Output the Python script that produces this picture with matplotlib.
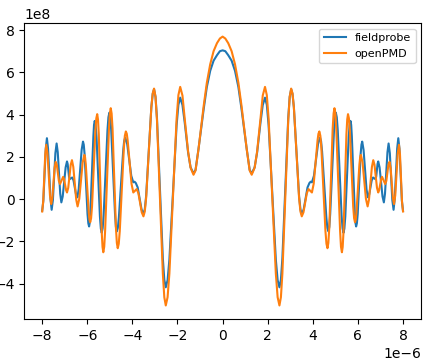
import matplotlib
matplotlib.use("Agg")
import matplotlib.pyplot as plt
import numpy as np

# x in micrometres, field in units of 1e7
probe_x = [-8.000, -7.947, -7.895, -7.842, -7.790, -7.740, -7.685, -7.630, -7.580, -7.525,
           -7.470, -7.415, -7.360, -7.310, -7.255, -7.200, -7.150, -7.090, -7.025, -6.960,
           -6.900, -6.870, -6.840, -6.810, -6.780, -6.725, -6.670, -6.610, -6.555, -6.500,
           -6.440, -6.380, -6.315, -6.250, -6.190, -6.156, -6.120, -6.055, -5.990, -5.954,
           -5.920, -5.889, -5.860, -5.795, -5.730, -5.701, -5.670, -5.631, -5.590, -5.515,
           -5.440, -5.399, -5.360, -5.318, -5.275, -5.190, -5.105, -5.063, -5.020, -4.979,
           -4.940, -4.855, -4.770, -4.731, -4.690, -4.644, -4.600, -4.505, -4.410, -4.366,
           -4.320, -4.230, -4.140, -4.050, -3.960, -3.905, -3.850, -3.765, -3.680, -3.595,
           -3.510, -3.451, -3.390, -3.275, -3.160, -3.099, -3.040, -2.975, -2.910, -2.780,
           -2.650, -2.585, -2.520, -2.440, -2.360, -2.200, -2.040, -1.960, -1.880, -1.780,
           -1.680, -1.530, -1.420, -1.290, -1.200, -1.070, -0.840, -0.700, -0.550, -0.400,
           -0.250, -0.120, 0.000,
           0.120, 0.250, 0.400, 0.550, 0.700, 0.840, 1.070, 1.200, 1.290, 1.420,
           1.530, 1.680, 1.780, 1.880, 1.960, 2.040, 2.200, 2.360, 2.440, 2.520,
           2.585, 2.650, 2.780, 2.910, 2.975, 3.040, 3.099, 3.160, 3.275, 3.390,
           3.451, 3.510, 3.595, 3.680, 3.765, 3.850, 3.905, 3.960, 4.050, 4.140,
           4.230, 4.320, 4.366, 4.410, 4.505, 4.600, 4.644, 4.690, 4.731, 4.770,
           4.855, 4.940, 4.979, 5.020, 5.063, 5.105, 5.190, 5.275, 5.318, 5.360,
           5.399, 5.440, 5.515, 5.590, 5.631, 5.670, 5.701, 5.730, 5.795, 5.860,
           5.889, 5.920, 5.954, 5.990, 6.055, 6.120, 6.156, 6.190, 6.250, 6.315,
           6.380, 6.440, 6.500, 6.555, 6.610, 6.670, 6.725, 6.780, 6.810, 6.840,
           6.870, 6.900, 6.960, 7.025, 7.090, 7.150, 7.200, 7.255, 7.310, 7.360,
           7.415, 7.470, 7.525, 7.580, 7.630, 7.685, 7.740, 7.790, 7.842, 7.895,
           7.947, 8.000]
probe_y = [-5.6, -0.6, 11.6, 23.8, 28.8, 23.9, 11.9, -0.2, -5.1, -0.5,
           10.6, 21.7, 26.3, 22.2, 12.4, 2.5, -1.6, 1.2, 8.1, 15.0,
           17.8, 16.6, 13.6, 10.6, 9.4, 9.8, 10.2, 8.8, 5.5, 2.2,
           0.8, 4.7, 14.0, 23.3, 27.2, 25.7, 21.3, 7.1, -7.1, -11.5,
           -13.0, -11.1, -5.7, 12.0, 29.7, 35.1, 37.0, 35.0, 29.3, 10.5,
           -8.3, -14.0, -16.0, -13.8, -7.7, 12.5, 32.6, 38.7, 40.9, 38.8,
           32.7, 12.8, -7.1, -13.2, -15.3, -13.6, -8.8, 6.9, 22.6, 27.4,
           29.1, 26.0, 18.5, 11.0, 7.9, 8.2, 7.6, 5.5, 0.3, -4.9,
           -7.1, -4.9, 1.5, 22.4, 43.4, 49.8, 52.0, 48.4, 38.3, 5.1,
           -28.1, -38.2, -41.8, -38.4, -28.7, 3.1, 34.9, 44.6, 48.0, 44.5,
           36.2, 22.0, 15.0, 12.1, 13.8, 23.6, 42.5, 53.0, 60.7, 65.5,
           68.1, 70.0, 70.4,
           70.0, 68.1, 65.5, 60.7, 53.0, 42.5, 23.6, 13.8, 12.1, 15.0,
           22.0, 36.2, 44.5, 48.0, 44.6, 34.9, 3.1, -28.7, -38.4, -41.8,
           -38.2, -28.1, 5.1, 38.3, 48.4, 52.0, 49.8, 43.4, 22.4, 1.5,
           -4.9, -7.1, -4.9, 0.3, 5.5, 7.6, 8.2, 7.9, 11.0, 18.5,
           26.0, 29.1, 27.4, 22.6, 6.9, -8.8, -13.6, -15.3, -13.2, -7.1,
           12.8, 32.7, 38.8, 40.9, 38.7, 32.6, 12.5, -7.7, -13.8, -16.0,
           -14.0, -8.3, 10.5, 29.3, 35.0, 37.0, 35.1, 29.7, 12.0, -5.7,
           -11.1, -13.0, -11.5, -7.1, 7.1, 21.3, 25.7, 27.2, 23.3, 14.0,
           4.7, 0.8, 2.2, 5.5, 8.8, 10.2, 9.8, 9.4, 10.6, 13.6,
           16.6, 17.8, 15.0, 8.1, 1.2, -1.6, 2.5, 12.4, 22.2, 26.3,
           21.7, 10.6, -0.5, -5.1, -0.2, 11.9, 23.9, 28.8, 23.8, 11.6,
           -0.6, -5.6]

pmd_x = [-8.000, -7.955, -7.910, -7.865, -7.820, -7.765, -7.710, -7.655, -7.600, -7.550,
         -7.500, -7.450, -7.400, -7.350, -7.305, -7.260, -7.210, -7.140, -7.070, -7.030,
         -6.985, -6.940, -6.900, -6.845, -6.790, -6.735, -6.680, -6.620, -6.555, -6.490,
         -6.430, -6.355, -6.280, -6.205, -6.130, -6.098, -6.065, -6.000, -5.935, -5.903,
         -5.870, -5.831, -5.790, -5.715, -5.640, -5.599, -5.560, -5.526, -5.490, -5.425,
         -5.360, -5.324, -5.290, -5.249, -5.210, -5.125, -5.040, -5.001, -4.960, -4.921,
         -4.880, -4.805, -4.730, -4.689, -4.650, -4.605, -4.560, -4.470, -4.380, -4.335,
         -4.290, -4.249, -4.210, -4.125, -4.040, -3.960, -3.885, -3.810, -3.735, -3.660,
         -3.585, -3.510, -3.451, -3.390, -3.275, -3.160, -3.099, -3.040, -2.975, -2.910,
         -2.780, -2.650, -2.585, -2.520, -2.440, -2.360, -2.200, -2.040, -1.960, -1.880,
         -1.780, -1.680, -1.530, -1.420, -1.290, -1.200, -1.070, -0.840, -0.700, -0.550,
         -0.400, -0.250, -0.120, 0.000,
         0.120, 0.250, 0.400, 0.550, 0.700, 0.840, 1.070, 1.200, 1.290, 1.420,
         1.530, 1.680, 1.780, 1.880, 1.960, 2.040, 2.200, 2.360, 2.440, 2.520,
         2.585, 2.650, 2.780, 2.910, 2.975, 3.040, 3.099, 3.160, 3.275, 3.390,
         3.451, 3.510, 3.585, 3.660, 3.735, 3.810, 3.885, 3.960, 4.040, 4.125,
         4.210, 4.249, 4.290, 4.335, 4.380, 4.470, 4.560, 4.605, 4.650, 4.689,
         4.730, 4.805, 4.880, 4.921, 4.960, 5.001, 5.040, 5.125, 5.210, 5.249,
         5.290, 5.324, 5.360, 5.425, 5.490, 5.526, 5.560, 5.599, 5.640, 5.715,
         5.790, 5.831, 5.870, 5.903, 5.935, 6.000, 6.065, 6.098, 6.130, 6.205,
         6.280, 6.355, 6.430, 6.490, 6.555, 6.620, 6.680, 6.735, 6.790, 6.845,
         6.900, 6.940, 6.985, 7.030, 7.070, 7.140, 7.210, 7.260, 7.305, 7.350,
         7.400, 7.450, 7.500, 7.550, 7.600, 7.655, 7.710, 7.765, 7.820, 7.865,
         7.910, 7.955, 8.000]
pmd_y = [-5.9, -1.3, 9.9, 21.1, 25.7, 21.6, 11.7, 1.7, -2.4, 0.5,
         7.6, 14.7, 17.6, 16.1, 12.4, 8.6, 7.1, 8.8, 10.5, 9.4,
         6.8, 4.2, 3.1, 5.3, 10.8, 16.2, 18.4, 15.2, 7.5, -0.3,
         -3.5, 0.1, 8.7, 17.3, 20.9, 19.7, 16.2, 5.0, -6.3, -9.8,
         -11.0, -9.1, -3.5, 14.6, 32.7, 38.3, 40.2, 37.7, 30.7, 7.5,
         -15.7, -22.7, -25.2, -22.6, -15.2, 8.9, 33.0, 40.4, 43.0, 40.5,
         33.3, 9.9, -13.6, -20.8, -23.3, -21.2, -15.2, 4.4, 23.9, 29.9,
         32.0, 30.9, 27.8, 17.6, 7.3, 3.1, 3.9, 4.7, 2.8, -1.8,
         -6.3, -8.2, -5.9, 0.6, 22.1, 43.5, 50.0, 52.3, 48.4, 37.3,
         1.0, -35.4, -46.5, -50.4, -46.5, -35.3, 1.4, 38.0, 49.2, 53.1,
         49.0, 38.0, 22.5, 14.8, 11.5, 13.5, 23.5, 44.0, 55.0, 63.8,
         70.0, 73.8, 76.0, 76.9,
         76.0, 73.8, 70.0, 63.8, 55.0, 44.0, 23.5, 13.5, 11.5, 14.8,
         22.5, 38.0, 49.0, 53.1, 49.2, 38.0, 1.4, -35.3, -46.5, -50.4,
         -46.5, -35.4, 1.0, 37.3, 48.4, 52.3, 50.0, 43.5, 22.1, 0.6,
         -5.9, -8.2, -6.3, -1.8, 2.8, 4.7, 3.9, 3.1, 7.3, 17.6,
         27.8, 30.9, 32.0, 29.9, 23.9, 4.4, -15.2, -21.2, -23.3, -20.8,
         -13.6, 9.9, 33.3, 40.5, 43.0, 40.4, 33.0, 8.9, -15.2, -22.6,
         -25.2, -22.7, -15.7, 7.5, 30.7, 37.7, 40.2, 38.3, 32.7, 14.6,
         -3.5, -9.1, -11.0, -9.8, -6.3, 5.0, 16.2, 19.7, 20.9, 17.3,
         8.7, 0.1, -3.5, -0.3, 7.5, 15.2, 18.4, 16.2, 10.8, 5.3,
         3.1, 4.2, 6.8, 9.4, 10.5, 8.8, 7.1, 8.6, 12.4, 16.1,
         17.6, 14.7, 7.6, 0.5, -2.4, 1.7, 11.7, 21.6, 25.7, 21.1,
         9.9, -1.3, -5.9]

fig = plt.figure(figsize=(4.47, 3.62), dpi=100)
ax = fig.add_axes([0.054, 0.119, 0.888, 0.817])
ax.plot(np.array(probe_x) * 1e-6, np.array(probe_y) * 1e7, label="fieldprobe")
ax.plot(np.array(pmd_x) * 1e-6, np.array(pmd_y) * 1e7, label="openPMD")
ax.legend(loc="upper right", fontsize=8)
fig.savefig("out.png", dpi=100)
